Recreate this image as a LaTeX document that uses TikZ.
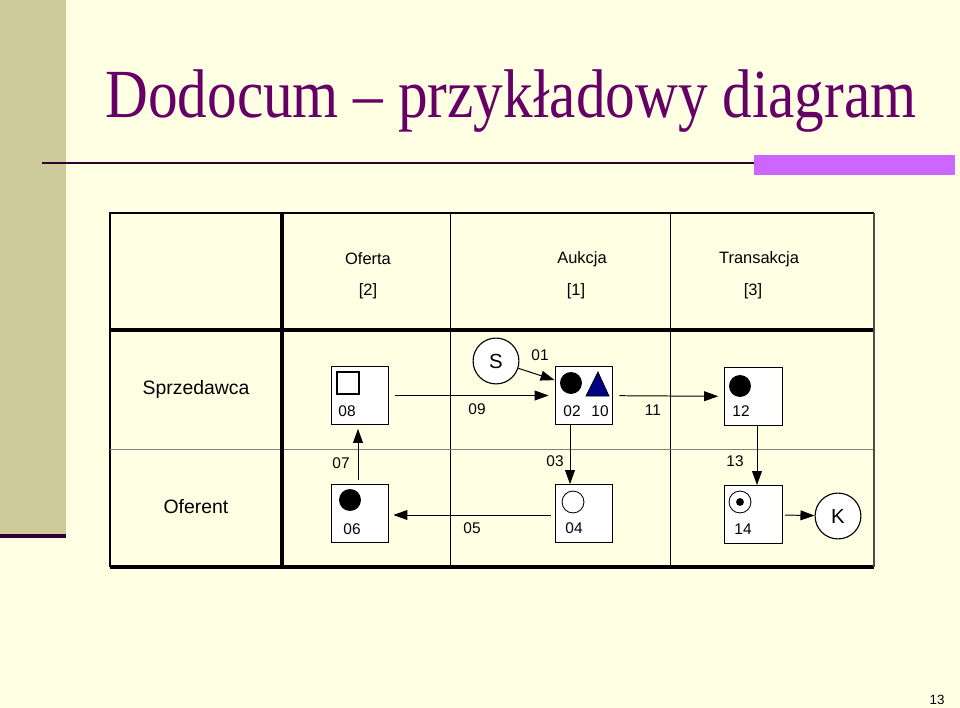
\documentclass[tikz,border=0pt]{standalone}
\usepackage{fontspec}
\setmainfont{Liberation Serif}
\setsansfont{Liberation Sans}
\usetikzlibrary{arrows.meta, calc}
\definecolor{slidebg}{HTML}{FFFFE3}
\definecolor{olive}{HTML}{CCCB99}
\definecolor{plum}{HTML}{660066}
\definecolor{dkplum}{HTML}{33002F}
\definecolor{violet}{HTML}{CC66FF}
\definecolor{navyblue}{HTML}{000080}

\tikzset{
  cell/.style={draw, fill=white, line width=0.8pt, minimum size=41pt, inner sep=0pt},
  state/.style={draw, fill=white, circle, line width=0.8pt, minimum size=32.6pt, inner sep=0pt, font=\sffamily\fontsize{14.5}{15}\selectfont},
  num/.style={font=\sffamily\fontsize{11}{12}\selectfont},
  hdr/.style={font=\sffamily\fontsize{11.7}{12}\selectfont},
  role/.style={font=\sffamily\fontsize{13.8}{14}\selectfont},
  flow/.style={-{Triangle[length=10pt, width=7pt]}, line width=0.7pt},
}

\begin{document}
\begin{tikzpicture}[x=0.025cm, y=-0.025cm]

% Background
\useasboundingbox (0,0) rectangle (960,708);
\fill[slidebg] (0,0) rectangle (960,708);
\fill[olive] (0,0) rectangle (66,537);
\fill[dkplum] (0,534) rectangle (66,538);

% Title
\node[font=\fontsize{49}{50}\selectfont, text=plum, anchor=base] (title) at (511,118) {\scalebox{0.86}[1]{Dodocum – przykładowy diagram}};
\draw[dkplum, line width=1.5pt] (42,163) -- (955,163);
\fill[violet] (754,155) rectangle (955,175);

% Table grid
\draw[line width=1pt] (110,567) -- (110,213) -- (874,213);
\draw[line width=0.7pt] (450,213) -- (450,567);
\draw[line width=0.7pt] (670,213) -- (670,567);
\draw[gray, line width=0.7pt] (110,449) -- (874,449);
\draw[line width=2.2pt] (282,213) -- (282,567);
\draw[line width=2.2pt] (110,330) -- (874,330);
\draw[line width=2.2pt] (110,567) -- (874,567);
\draw[black!70, line width=1.8pt] (874,213) -- (874,567);

% Headers
\node[hdr] (oferta) at (368,259) {Oferta};
\node[hdr] (oferta n) at (368,291) {[2]};
\node[hdr] (aukcja) at (582,259) {Aukcja};
\node[hdr] (aukcja n) at (576,291) {[1]};
\node[hdr] (transakcja) at (759,259) {Transakcja};
\node[hdr] (transakcja n) at (753,291) {[3]};
\node[role] (sprzedawca) at (196,389) {Sprzedawca};
\node[role] (oferent) at (196,507) {Oferent};

% Activity boxes
\node[cell] (b08) at (360,395.5) {};
\node[cell] (b02) at (584,395.5) {};
\node[cell] (b12) at (753.5,396.5) {};
\node[cell] (b06) at (360,513.5) {};
\node[cell] (b04) at (584,513.5) {};
\node[cell] (b14) at (753.5,514.5) {};
\node[state] (S) at (496,361) {S};
\node[state] (K) at (838,516) {K};

% Box contents
\draw[line width=0.8pt] (337,372) rectangle (359,394);
\fill (571,383) circle (7.8pt);
\filldraw[fill=navyblue, draw=black, line width=0.5pt] (586,396) -- (609,396) -- (598,372) -- cycle;
\fill (740,386) circle (7.8pt);
\fill (350,500) circle (7.8pt);
\draw[fill=white, line width=0.6pt] (573,502) circle (7.8pt);
\draw[fill=white, line width=0.6pt] (740,502) circle (7.8pt);
\fill (740,502) circle (2.8pt);

% Box numbers
\node[num] (n08) at (347,411) {08};
\node[num] (n02) at (572,411) {02};
\node[num] (n10) at (600,411) {10};
\node[num] (n12) at (741,411) {12};
\node[num] (n06) at (352,529) {06};
\node[num] (n04) at (574,528) {04};
\node[num] (n14) at (743,529) {14};

% Flows
\draw[flow] (S) -- ($(b02.north west)+(0,14)$);
\draw[flow, shorten <=4.2pt, shorten >=4.2pt] (b08) -- (b02);
\draw[flow, shorten <=4.2pt, shorten >=4.2pt] (b02) -- (b12);
\draw[flow] ($(b02.south)+(-14,0)$) -- ($(b04.north)+(-14,0)$);
\draw[flow] ($(b12.south)+(3.5,0)$) -- ($(b14.north)+(3.5,0)$);
\draw[flow, shorten <=2.8pt, shorten >=2.8pt] ($(b04.west)+(0,1.5)$) -- ($(b06.east)+(0,1.5)$);
\draw[flow, shorten <=2.8pt, shorten >=2.8pt] ($(b06.north)+(-2,0)$) -- ($(b08.south)+(-2,0)$);
\draw[flow, shorten <=1.4pt] (b14) -- (K);

% Flow numbers
\node[num] (f01) at (540,355) {01};
\node[num] (f09) at (477,409) {09};
\node[num] (f11) at (653,410) {11};
\node[num] (f03) at (555,461) {03};
\node[num] (f13) at (735,461) {13};
\node[num] (f05) at (472,528) {05};
\node[num] (f07) at (341,463) {07};

% Page number
\node[font=\sffamily\fontsize{9.5}{10}\selectfont] (pagenum) at (937,700) {13};

\end{tikzpicture}
\end{document}
